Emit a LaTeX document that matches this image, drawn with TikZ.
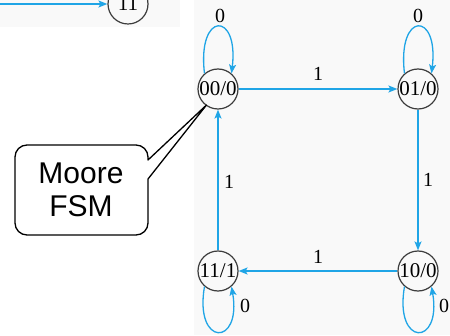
\documentclass[tikz,border=0pt]{standalone}
\usepackage{fontspec}
\setmainfont{Liberation Serif}
\newfontfamily\calloutfont{Liberation Sans}
\usetikzlibrary{arrows.meta}
\definecolor{edgeblue}{RGB}{32,165,230}
\definecolor{ringgray}{RGB}{60,60,60}
\definecolor{panelgray}{RGB}{249,249,249}
\tikzset{
  x=1pt, y=1pt,
  state/.style={circle, draw=ringgray, line width=1.2pt, minimum size=40pt,
    inner sep=0pt, font=\fontsize{21}{21}\selectfont},
  trans/.style={draw=edgeblue, line width=1.3pt,
    -{Stealth[length=9pt,width=7pt,inset=2pt]}},
  lbl/.style={font=\fontsize{20}{20}\selectfont, inner sep=0pt},
  callout/.style={draw=black, line width=1.3pt, fill=white, line join=round}
}
\begin{document}
\begin{tikzpicture}
\useasboundingbox (0,0) rectangle (450,335);
\clip (0,0) rectangle (450,335);
% faint panels behind the two diagrams
\fill[panelgray] (0,308) rectangle (180,335);
\fill[panelgray] (194,0) rectangle (450,335);

% partial diagram at the top left
\node[state] (t11) at (128,331) {11};
\coordinate (tin) at (-2,331);
\draw[trans] (tin) -- (t11);

% Moore FSM states
\node[state] (s00) at (218,246) {00/0};
\node[state] (s01) at (418,246) {01/0};
\node[state] (s11) at (218,64) {11/1};
\node[state] (s10) at (418,64) {10/0};

% transitions on input 1
\draw[trans] (s00) -- (s01);
\draw[trans] (s01) -- (s10);
\draw[trans] (s10) -- (s11);
\draw[trans] (s11) -- (s00);
\node[lbl] (l1a) at (318,261) {1};
\node[lbl] (l1b) at (428,155) {1};
\node[lbl] (l1c) at (318,78) {1};
\node[lbl] (l1d) at (229,153) {1};

% self loops on input 0
\draw[trans] (s00.131) .. controls (197,324) and (239,324) .. (s00.49);
\draw[trans] (s01.131) .. controls (397,324) and (439,324) .. (s01.49);
\draw[trans] (s11.229) .. controls (194,-12) and (242,-12) .. (s11.311);
\draw[trans] (s10.229) .. controls (394,-12) and (442,-12) .. (s10.311);
\node[lbl] (l0a) at (220,319) {0};
\node[lbl] (l0b) at (418,319) {0};
\node[lbl] (l0c) at (245,29) {0};
\node[lbl] (l0d) at (444,29) {0};

% speech balloon pointing at the initial state
\coordinate (tip) at (206.5,230);
\draw[callout] (148,175) -- (tip) -- (148,156)
  -- (148,112) arc[start angle=0, end angle=-90, radius=12]
  -- (27,100) arc[start angle=270, end angle=180, radius=12]
  -- (15,178) arc[start angle=180, end angle=90, radius=12]
  -- (136,190) arc[start angle=90, end angle=0, radius=12] -- cycle;
\node[font=\calloutfont\fontsize{30}{33}\selectfont, align=center, inner sep=0pt]
  (balloon) at (81,145) {Moore\\FSM};
\end{tikzpicture}
\end{document}
